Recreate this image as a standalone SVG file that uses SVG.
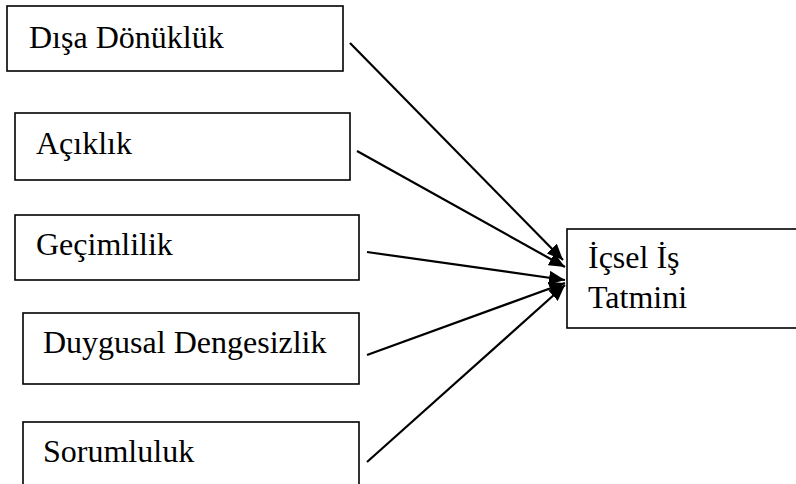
<svg xmlns="http://www.w3.org/2000/svg" width="796" height="484" viewBox="0 0 796 484">
<style>
.box{fill:#fff;stroke:#000;stroke-width:1.6}
.t{font-family:"Liberation Serif","Times New Roman",serif;font-size:32px;fill:#000}
.c{stroke:#000;stroke-width:2.2;fill:none;marker-end:url(#ah)}
</style>
<defs>
<marker id="ah" markerUnits="userSpaceOnUse" markerWidth="18" markerHeight="14" refX="16" refY="7" orient="auto">
<path d="M0,0 L16,7 L0,14 Z" fill="#000"/>
</marker>
</defs>
<rect width="796" height="484" fill="#fff"/>
<g id="n1"><rect class="box" x="7" y="6" width="336" height="65"/><text class="t" x="29" y="48">Dışa Dönüklük</text></g>
<g id="n2"><rect class="box" x="15" y="113" width="335" height="67"/><text class="t" x="36" y="154">Açıklık</text></g>
<g id="n3"><rect class="box" x="15" y="215" width="344" height="65"/><text class="t" x="36" y="255">Geçimlilik</text></g>
<g id="n4"><rect class="box" x="23" y="313" width="336" height="71"/><text class="t" x="43" y="353">Duygusal Dengesizlik</text></g>
<g id="n5"><rect class="box" x="23" y="422" width="336" height="80"/><text class="t" x="43" y="462">Sorumluluk</text></g>
<g id="n6"><rect class="box" x="567" y="229" width="240" height="99"/><text class="t" x="588" y="268">İçsel İş</text><text class="t" x="588" y="308">Tatmini</text></g>
<g id="connectors">
<line class="c" x1="350" y1="43" x2="563" y2="260"/>
<line class="c" x1="357" y1="151" x2="565" y2="267"/>
<line class="c" x1="367" y1="252" x2="565" y2="280"/>
<line class="c" x1="367" y1="355" x2="565" y2="283"/>
<line class="c" x1="367" y1="462" x2="565" y2="285"/>
</g>
</svg>
